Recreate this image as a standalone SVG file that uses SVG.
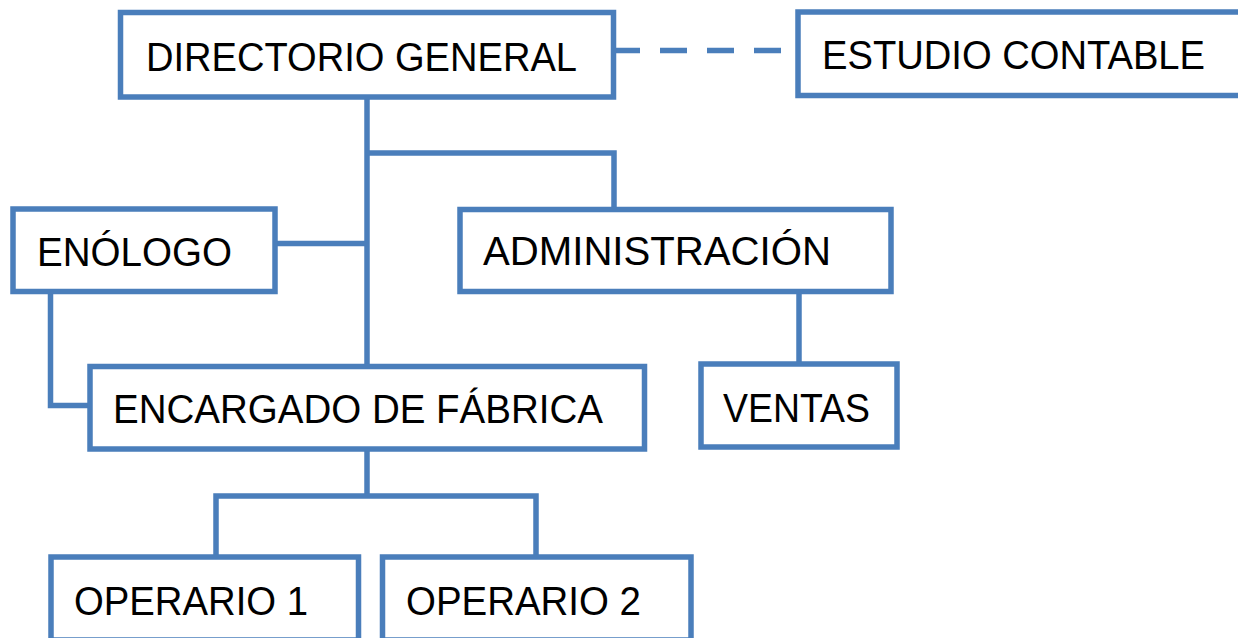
<svg xmlns="http://www.w3.org/2000/svg" width="1238" height="638" viewBox="0 0 1238 638">
<style>
.box{fill:#fff;stroke:#4A7EBB;stroke-width:5.5}
.ln{fill:none;stroke:#4A7EBB;stroke-width:5.5}
.t{font-family:"Liberation Sans",Arial,sans-serif;font-size:40px;fill:#000}
</style>
<rect width="1238" height="638" fill="#fff"/>
<g id="connectors">
<path class="ln" d="M367,97 V367"/>
<path class="ln" d="M367,153 H614 V210"/>
<path class="ln" d="M275,243.5 H367"/>
<path class="ln" d="M50.5,291.5 V405.5 H90"/>
<path class="ln" d="M799,291.5 V364"/>
<path class="ln" d="M367,449 V496"/>
<path class="ln" d="M216,557 V496 H536 V557"/>
<path class="ln" d="M613,50.5 H781" stroke-dasharray="27 20"/>
</g>
<g id="directorio"><rect class="box" x="120.5" y="12.5" width="493" height="84.5"/><text class="t" x="146" y="71" textLength="431" lengthAdjust="spacingAndGlyphs">DIRECTORIO GENERAL</text></g>
<g id="estudio"><rect class="box" x="798" y="12" width="450" height="83.5"/><text class="t" x="822" y="69" textLength="383" lengthAdjust="spacingAndGlyphs">ESTUDIO CONTABLE</text></g>
<g id="enologo"><rect class="box" x="13" y="209" width="262" height="82.5"/><text class="t" x="37" y="266" textLength="195" lengthAdjust="spacingAndGlyphs">ENÓLOGO</text></g>
<g id="administracion"><rect class="box" x="460" y="209.5" width="431" height="82"/><text class="t" x="483" y="265" textLength="348" lengthAdjust="spacingAndGlyphs">ADMINISTRACIÓN</text></g>
<g id="encargado"><rect class="box" x="90" y="366.5" width="554.5" height="82.5"/><text class="t" x="113" y="423" textLength="490" lengthAdjust="spacingAndGlyphs">ENCARGADO DE FÁBRICA</text></g>
<g id="ventas"><rect class="box" x="701" y="364" width="196" height="83"/><text class="t" x="723" y="422" textLength="147" lengthAdjust="spacingAndGlyphs">VENTAS</text></g>
<g id="operario1"><rect class="box" x="51" y="557" width="307.5" height="83"/><text class="t" x="74" y="615" textLength="234" lengthAdjust="spacingAndGlyphs">OPERARIO 1</text></g>
<g id="operario2"><rect class="box" x="382.5" y="557" width="308.5" height="83"/><text class="t" x="406" y="615" textLength="235" lengthAdjust="spacingAndGlyphs">OPERARIO 2</text></g>
</svg>
